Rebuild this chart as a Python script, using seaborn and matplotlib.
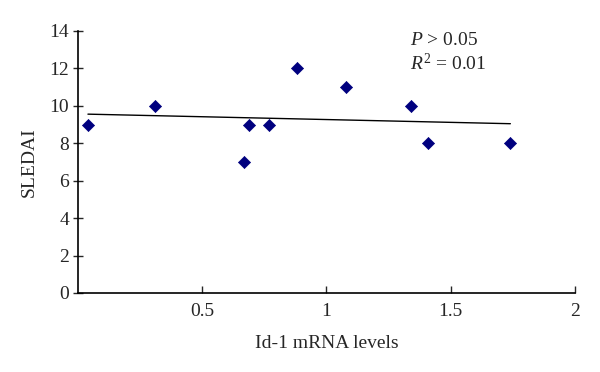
import pandas as pd
import matplotlib
matplotlib.use("Agg")
import matplotlib.pyplot as plt
import seaborn as sns

# Data
id1_mrna = [0.04, 0.31, 0.67, 0.69, 0.77, 0.88, 1.08, 1.34, 1.41, 1.74]
sledai = [9, 10, 7, 9, 9, 12, 11, 10, 8, 8]
x_ticks = [0.5, 1, 1.5, 2]
x_tick_labels = ["0.5", "1", "1.5", "2"]
y_ticks = [0, 2, 4, 6, 8, 10, 12, 14]

df = pd.DataFrame({"Id-1 mRNA levels": id1_mrna, "SLEDAI": sledai})

sns.set_style("ticks")
plt.rcParams["font.family"] = ["Liberation Serif", "DejaVu Serif"]
plt.rcParams["mathtext.fontset"] = "custom"
plt.rcParams["mathtext.it"] = "Liberation Serif:italic"
plt.rcParams["mathtext.rm"] = "Liberation Serif"

fig = plt.figure(figsize=(6, 3.72), dpi=100)
ax = fig.add_axes([0.13, 0.2124, 0.8283, 0.7043])

# regression line + diamond markers
sns.regplot(x="Id-1 mRNA levels", y="SLEDAI", data=df, ci=None, ax=ax,
            scatter=False, line_kws={"color": "black", "linewidth": 1.0})
sns.scatterplot(x="Id-1 mRNA levels", y="SLEDAI", data=df, ax=ax,
                marker="D", s=38, color="#00007F", edgecolor="#00007F",
                linewidth=0.5, zorder=3)

ax.set_xlim(0, 2)
ax.set_ylim(0, 14)
ax.set_xticks(x_ticks)
ax.set_xticklabels(x_tick_labels)
ax.set_yticks(y_ticks)
ax.tick_params(axis="x", direction="in", length=5, width=1, labelsize=14, pad=7)
ax.tick_params(axis="y", direction="inout", length=7, width=1, labelsize=14, pad=3)
for s in ["top", "right"]:
    ax.spines[s].set_visible(False)
for s in ["left", "bottom"]:
    ax.spines[s].set_linewidth(1.2)
    ax.spines[s].set_color("black")

ax.set_xlabel("Id-1 mRNA levels", fontsize=14, labelpad=11)
ax.set_ylabel("SLEDAI", fontsize=14, labelpad=8)

ax.text(0.6675, 0.962, r"$P$ > 0.05", transform=ax.transAxes, fontsize=14,
        ha="left", va="center")
ax.text(0.6675, 0.875, r"$R^2$ = 0.01", transform=ax.transAxes, fontsize=14,
        ha="left", va="center")

fig.savefig("out.png", dpi=100)
